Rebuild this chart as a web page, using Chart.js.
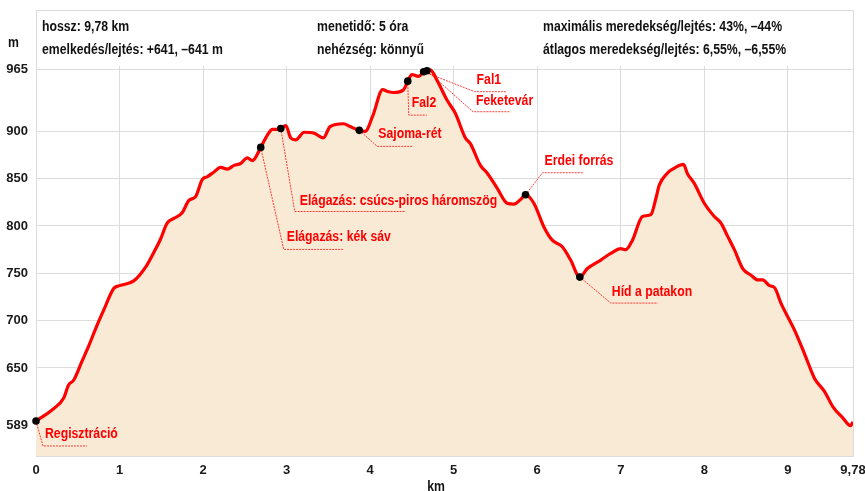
<!DOCTYPE html>
<html>
<head>
<meta charset="utf-8">
<script src="https://cdn.jsdelivr.net/npm/chart.js@4.4.1/dist/chart.umd.min.js"></script>
<style>
  html, body { margin: 0; padding: 0; background: #fff; }
  #wrap { width: 865px; height: 491px; position: relative; }
</style>
</head>
<body>
<div id="wrap"><canvas id="profileChart"></canvas></div>
<script>
// elevation profile (km / m)
const kmValues = [0.00, 0.21, 0.33, 0.39, 0.45, 0.55, 0.63, 0.73, 0.81, 0.93, 1.00, 1.17, 1.33, 1.41, 1.49, 1.57, 1.65, 1.75, 1.83, 1.91,
  1.99, 2.05, 2.13, 2.21, 2.29, 2.37, 2.45, 2.53, 2.59, 2.69, 2.77, 2.83, 2.89, 2.93, 2.99, 3.05, 3.11, 3.21, 3.33, 3.44,
  3.52, 3.68, 3.76, 3.87, 3.94, 4.03, 4.15, 4.21, 4.28, 4.40, 4.45, 4.50, 4.58, 4.64, 4.68, 4.72, 4.80, 4.92, 5.02, 5.14,
  5.20, 5.32, 5.40, 5.52, 5.64, 5.72, 5.80, 5.86, 5.96, 6.08, 6.18, 6.30, 6.40, 6.51, 6.60, 6.76, 6.88, 7.00, 7.06, 7.14,
  7.26, 7.36, 7.42, 7.46, 7.56, 7.64, 7.75, 7.80, 7.88, 8.00, 8.12, 8.20, 8.28, 8.36, 8.46, 8.56, 8.64, 8.70, 8.78, 8.84,
  8.92, 9.08, 9.20, 9.32, 9.44, 9.54, 9.66, 9.75, 9.78];
const elevValues = [594, 607, 618, 632, 637, 657, 673, 695, 711, 734, 737, 742, 759, 772, 786, 803, 808, 814, 827, 831,
  849, 852, 857, 862, 860, 864, 866, 872, 869, 883, 896, 902, 902, 903, 906, 893, 891, 899, 898, 893,
  905, 908, 905, 901, 900, 916, 944, 942, 941, 944, 953, 960, 958, 963, 964, 965, 954, 933, 919, 893,
  887, 864, 856, 840, 824, 823, 828, 833, 824, 799, 785, 778, 764, 746, 755, 764, 771, 776, 775, 785,
  810, 812, 829, 843, 856, 861, 865, 855, 845, 824, 810, 803, 789, 775, 755, 748, 743, 743, 737, 735,
  718, 690, 665, 639, 625, 609, 597, 589, 593];

const waypointNames = ['Regisztráció', 'Elágazás: kék sáv', 'Elágazás: csúcs-piros háromszög', 'Sajoma-rét',
  'Fal2', 'Fal1', 'Feketevár', 'Erdei forrás', 'Híd a patakon'];
const waypointKm = [0, 2.69, 2.93, 3.87, 4.45, 4.64, 4.68, 5.86, 6.51];
const waypointElev = [594, 883, 903, 901, 953, 963, 964, 833, 746];

const xTickValues = [0, 1, 2, 3, 4, 5, 6, 7, 8, 9, 9.78];
const yTickValues = [589, 650, 700, 750, 800, 850, 900, 965];

const headerLeft = ['hossz: 9,78 km', 'emelkedés/lejtés: +641, –641 m'];
const headerMid = ['menetidő: 5 óra', 'nehézség: könnyű'];
const headerRight = ['maximális meredekség/lejtés: 43%, –44%', 'átlagos meredekség/lejtés: 6,55%, –6,55%'];

// leader line elbow (ex, ey) relative to the dot, underline length, text offset from elbow
const calloutLayout = [
  { ex: 7, ey: 25, len: 44, tx: 2, ty: -12 },
  { ex: 23, ey: 102, len: 60, tx: 3, ty: -12 },
  { ex: 14, ey: 83, len: 110, tx: 5, ty: -10 },
  { ex: 18, ey: 16, len: 36, tx: 1, ty: -12 },
  { ex: 1, ey: 34, len: 18, tx: 3, ty: -12 },
  { ex: 51, ey: 20, len: 32, tx: 2, ty: -12 },
  { ex: 46, ey: 41, len: 37, tx: 3, ty: -11 },
  { ex: 17, ey: -22, len: 41, tx: 2, ty: -12 },
  { ex: 31, ey: 26, len: 47, tx: 1, ty: -11 },
];

const FONT = '"Liberation Sans", Arial, sans-serif';
const GRID = '#dcdcdc';

// the source face is tall and narrow: draw 14px bold squeezed horizontally
function narrowText(ctx, text, x, y, align) {
  ctx.save();
  ctx.translate(x, y);
  ctx.scale(0.875, 1);
  ctx.textAlign = align;
  ctx.fillText(text, 0, 0);
  ctx.restore();
}

const overlay = {
  id: 'overlay',
  beforeDraw(chart) {
    const { ctx, chartArea } = chart;
    ctx.save();
    ctx.strokeStyle = GRID;
    ctx.lineWidth = 1;
    ctx.strokeRect(chartArea.left + 0.5, 10.5, chartArea.right - chartArea.left, chartArea.bottom - 10);
    ctx.restore();
  },
  afterDraw(chart) {
    const { ctx } = chart;
    const xs = chart.scales.x;
    const ys = chart.scales.y;
    ctx.save();
    ctx.fillStyle = '#111';
    ctx.font = 'bold 14px ' + FONT;
    ctx.textBaseline = 'middle';
    [27, 50].forEach((y, i) => {
      narrowText(ctx, headerLeft[i], 42, y, 'left');
      narrowText(ctx, headerMid[i], 317, y, 'left');
      narrowText(ctx, headerRight[i], 543, y, 'left');
    });
    narrowText(ctx, 'm', 8, 43, 'left');
    narrowText(ctx, 'km', 436, 487, 'center');

    // callouts
    waypointNames.forEach((name, i) => {
      const lay = calloutLayout[i];
      const px = xs.getPixelForValue(waypointKm[i]);
      const py = ys.getPixelForValue(waypointElev[i]);
      const ex = px + lay.ex;
      const ey = py + lay.ey;
      ctx.strokeStyle = 'rgba(255,0,0,0.75)';
      ctx.lineWidth = 1;
      ctx.setLineDash([2, 1]);
      ctx.beginPath();
      ctx.moveTo(px, py);
      ctx.lineTo(ex, ey);
      ctx.lineTo(ex + lay.len, ey);
      ctx.stroke();
      ctx.setLineDash([]);
      ctx.fillStyle = '#ff0000';
      narrowText(ctx, name, ex + lay.tx, ey + lay.ty, 'left');
    });

    // markers on top of the leaders
    ctx.fillStyle = '#000';
    waypointKm.forEach((km, i) => {
      ctx.beginPath();
      ctx.arc(xs.getPixelForValue(km), ys.getPixelForValue(waypointElev[i]), 3.8, 0, Math.PI * 2);
      ctx.fill();
    });
    ctx.restore();
  },
};

function buildProfile() {
  const ctx = document.getElementById('profileChart');
  new Chart(ctx, {
    type: 'line',
    data: {
      datasets: [{
        label: 'magasság',
        data: kmValues.map((km, i) => ({ x: km, y: elevValues[i] })),
        borderColor: '#ff0000',
        borderWidth: 3.2,
        backgroundColor: 'rgb(249, 234, 214)',
        fill: 'start',
        pointRadius: 0,
        cubicInterpolationMode: 'monotone',
      }],
    },
    options: {
      responsive: true,
      maintainAspectRatio: false,
      animation: false,
      layout: { padding: { top: 66, right: 12, left: 0, bottom: 0 } },
      plugins: { legend: { display: false }, tooltip: { enabled: false } },
      scales: {
        x: {
          type: 'linear',
          min: 0,
          max: 9.78,
          afterBuildTicks: (scale) => { scale.ticks = xTickValues.map((v) => ({ value: v })); },
          afterFit: (scale) => { scale.height = 35; scale.paddingLeft = 0; scale.paddingRight = 0; },
          ticks: {
            color: '#1a1a1a',
            font: { family: FONT, size: 13, weight: 'bold' },
            padding: 7,
            maxRotation: 0,
            autoSkip: false,
            callback: (v) => String(v).replace('.', ','),
          },
          grid: { color: GRID, drawTicks: false },
          border: { color: GRID },
        },
        y: {
          min: 557,
          max: 969,
          afterBuildTicks: (scale) => { scale.ticks = yTickValues.map((v) => ({ value: v })); },
          afterFit: (scale) => { scale.width = 36; },
          ticks: {
            color: '#1a1a1a',
            font: { family: FONT, size: 13, weight: 'bold' },
            padding: 8,
            autoSkip: false,
          },
          grid: { color: GRID, drawTicks: false },
          border: { color: GRID },
        },
      },
    },
    plugins: [overlay],
  });
}

document.addEventListener('DOMContentLoaded', buildProfile);
</script>
</body>
</html>
